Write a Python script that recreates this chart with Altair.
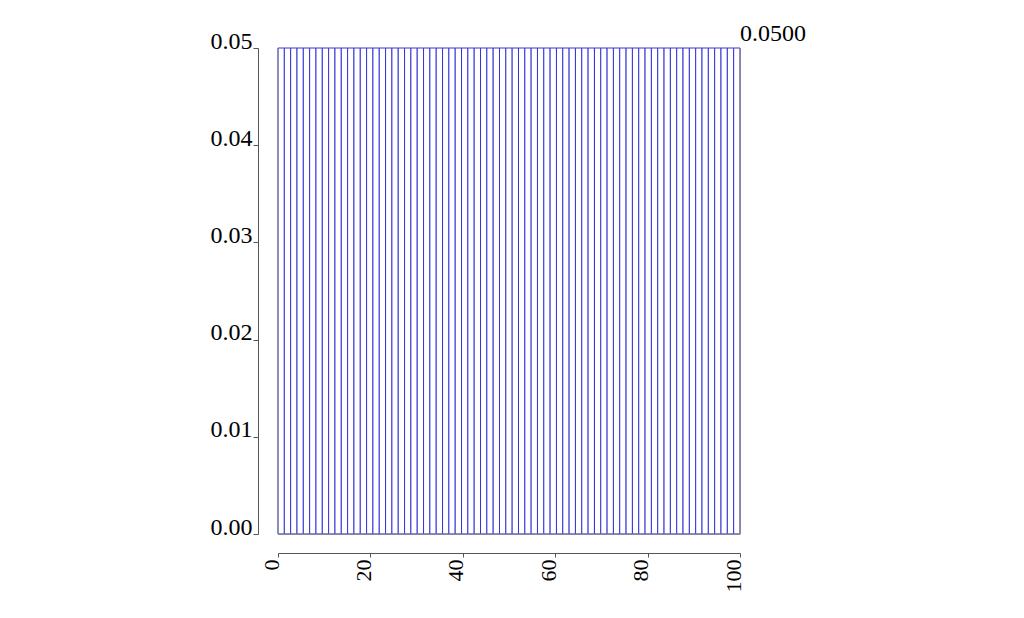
import altair as alt
import pandas as pd

# 73 equal-height bars spanning 0..100
n_bars = 73
heights = [0.05] * n_bars
bar_index = list(range(n_bars))
x_ticks = [0, 20, 40, 60, 80, 100]
y_ticks = [0.00, 0.01, 0.02, 0.03, 0.04, 0.05]
annotation = "0.0500"

df = pd.DataFrame({"i": bar_index, "h": heights})

FONT = "Liberation Serif"

xs = alt.Scale(domain=[0, 100], nice=False, zero=False)
ys = alt.Scale(domain=[0, 0.05], nice=False)

bars = (
    alt.Chart(df)
    .transform_calculate(x0="datum.i * 100 / 73", x1="(datum.i + 1) * 100 / 73")
    .mark_rect(fill="white", stroke="#3535d8", strokeWidth=1)
    .encode(
        x=alt.X(
            "x0:Q",
            scale=xs,
            title=None,
            axis=alt.Axis(
                values=x_ticks,
                labelAngle=270,
                labelAlign="right",
                labelBaseline="alphabetic",
                labelFont=FONT,
                labelFontSize=22,
                labelColor="black",
                labelPadding=2,
                tickSize=4,
                tickColor="#555555",
                domainColor="#555555",
                offset=19,
                grid=False,
                labelFlush=False,
                labelOverlap=False,
            ),
        ),
        x2="x1:Q",
        y=alt.Y(
            "h:Q",
            scale=ys,
            title=None,
            axis=alt.Axis(
                values=y_ticks,
                format=".2f",
                labelFont=FONT,
                labelFontSize=24,
                labelColor="black",
                labelBaseline="alphabetic",
                labelPadding=1,
                tickSize=5,
                tickColor="#555555",
                domainColor="#555555",
                offset=20,
                grid=False,
                labelFlush=False,
                labelOverlap=False,
            ),
        ),
        y2=alt.Y2(datum=0),
    )
)

edges = pd.DataFrame({"x": [0, 100]})
vrules = (
    alt.Chart(edges)
    .mark_rule(color="#808080", strokeWidth=1)
    .encode(x=alt.X("x:Q", scale=xs), y=alt.datum(0), y2=alt.datum(0.05))
)
hrule = (
    alt.Chart(pd.DataFrame({"y": [0]}))
    .mark_rule(color="#808080", strokeWidth=1)
    .encode(y=alt.Y("y:Q", scale=ys), x=alt.datum(0), x2=alt.datum(100))
)

label = (
    alt.Chart(pd.DataFrame({"x": [100], "y": [0.05], "t": [annotation]}))
    .mark_text(font=FONT, fontSize=24, align="left", baseline="alphabetic", dy=-7, color="black")
    .encode(x=alt.X("x:Q", scale=xs), y=alt.Y("y:Q", scale=ys), text="t:N")
)

chart = (
    alt.layer(bars, vrules, hrule, label)
    .properties(
        width=462,
        height=486,
        autosize=alt.AutoSizeParams(type="none"),
        padding={"left": 270, "top": 40, "right": 200, "bottom": 70},
    )
    .configure_view(stroke=None)
    .configure(background="white")
)

chart.save("out.html", embed_options={"renderer": "svg", "actions": False})
